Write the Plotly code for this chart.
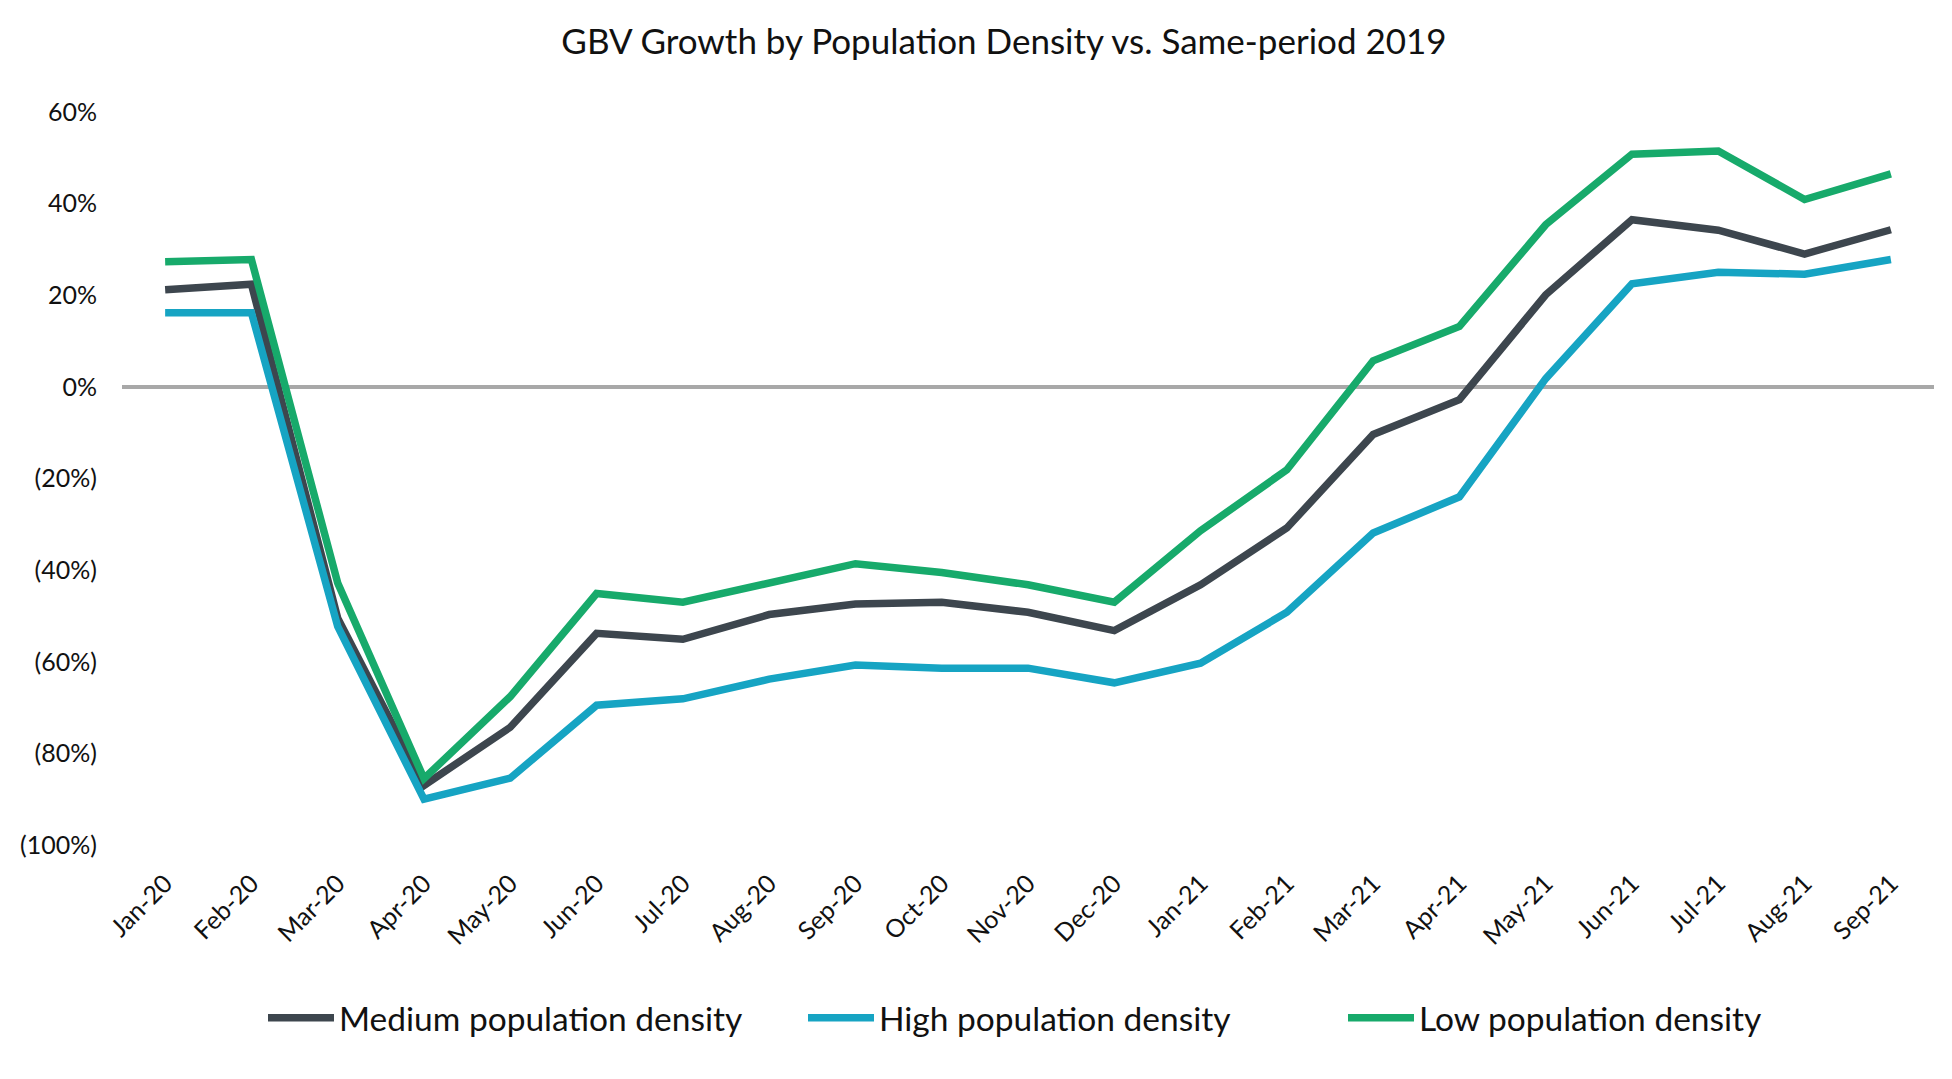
import plotly.graph_objects as go

months = ["Jan-20", "Feb-20", "Mar-20", "Apr-20", "May-20", "Jun-20", "Jul-20", "Aug-20",
          "Sep-20", "Oct-20", "Nov-20", "Dec-20", "Jan-21", "Feb-21", "Mar-21", "Apr-21",
          "May-21", "Jun-21", "Jul-21", "Aug-21", "Sep-21"]

medium = [21.2, 22.4, -50.5, -87.0, -74.3, -53.8, -55.1, -49.7, -47.4, -47.0, -49.2, -53.2,
          -43.2, -30.8, -10.4, -2.8, 20.1, 36.5, 34.2, 29.0, 34.3]
high = [16.2, 16.2, -52.3, -90.0, -85.4, -69.5, -68.1, -63.8, -60.7, -61.4, -61.4, -64.6,
        -60.3, -49.2, -31.9, -24.0, 1.8, 22.5, 25.0, 24.6, 27.8]
low = [27.3, 27.8, -42.8, -85.5, -67.6, -45.1, -47.0, -43.0, -38.6, -40.5, -43.2, -47.0,
       -31.4, -18.1, 5.7, 13.2, 35.4, 50.8, 51.5, 40.9, 46.5]

series_names = ["Medium population density", "High population density", "Low population density"]
series_colors = ["#3d464e", "#16a4c3", "#17aa6b"]

ytick_vals = [60, 40, 20, 0, -20, -40, -60, -80, -100]
ytick_text = ["60%", "40%", "20%", "0%", "(20%)", "(40%)", "(60%)", "(80%)", "(100%)"]

title_text = "GBV Growth by Population Density vs. Same-period 2019"

FONT = "Lato, 'Open Sans', sans-serif"

fig = go.Figure()
for name, vals, col in zip(series_names, [medium, high, low], series_colors):
    fig.add_trace(go.Scatter(
        x=months, y=vals, name=name, mode="lines",
        line=dict(color=col, width=7.5),
    ))

fig.update_layout(
    width=1952, height=1079, autosize=False,
    paper_bgcolor="white", plot_bgcolor="white",
    margin=dict(l=122, r=18, t=112, b=234),
    font=dict(family=FONT, color="#111111"),
    title=dict(text=title_text, x=1004 / 1952, xref="container", xanchor="center",
               y=1 - 42 / 1079, yref="container", yanchor="middle",
               font=dict(family=FONT, size=35, color="#111111")),
    showlegend=True,
    legend=dict(orientation="h", xref="container", yref="container",
                x=263 / 1952, xanchor="left", y=1 - 1018 / 1079, yanchor="middle",
                font=dict(family=FONT, size=33.5, color="#111111"),
                itemwidth=66, entrywidth=459, entrywidthmode="pixels",
                bgcolor="rgba(0,0,0,0)"),
    xaxis=dict(type="category", range=[-0.5, 20.5], showgrid=False, showline=False,
               zeroline=False, tickangle=-45, ticks="", ticklabelstandoff=18,
               tickfont=dict(family=FONT, size=25, color="#111111")),
    yaxis=dict(range=[-100, 60], tickvals=ytick_vals, ticktext=ytick_text,
               showgrid=False, showline=False, zeroline=True, zerolinecolor="#a8a8a8",
               zerolinewidth=3.5, ticks="", ticklabelstandoff=24,
               tickfont=dict(family=FONT, size=25, color="#111111")),
)

fig.write_html("out.html", config={"displayModeBar": False},
               post_script="document.body.style.margin='0';document.body.style.overflow='hidden';")
